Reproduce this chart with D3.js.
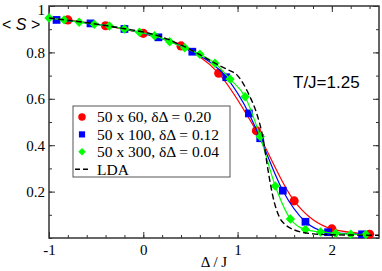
<!DOCTYPE html>
<html>
<head>
<meta charset="utf-8">
<script src="https://cdn.jsdelivr.net/npm/d3@7"></script>
<style>
  body { margin: 0; background: #fff; }
  text { fill: #000; }
</style>
</head>
<body>
<svg id="chart" width="382" height="271"></svg>
<script>
// 50 x 60, dDelta = 0.20 (red circles)
const delta60 = [-0.8, -0.4, 0.0, 0.4, 0.8, 1.2, 1.6, 2.0, 2.4];
const s60 = [0.940, 0.915, 0.882, 0.828, 0.710, 0.462, 0.160, 0.039, 0.016];

// 50 x 100, dDelta = 0.12 (blue squares)
const delta100 = [-0.92, -0.56, -0.20, 0.16, 0.52, 0.88, 1.12, 1.24, 1.48, 1.72, 1.96, 2.32];
const s100 = [0.940, 0.925, 0.901, 0.865, 0.803, 0.693, 0.537, 0.430, 0.204, 0.070, 0.025, 0.016];

// 50 x 300, dDelta = 0.04 (green diamonds)
const delta300 = [-1.0, -0.84, -0.68, -0.52, -0.36, -0.2, -0.04, 0.12, 0.28, 0.44, 0.6, 0.76,
  0.92, 1.08, 1.24, 1.40, 1.56, 1.72, 1.88, 2.04, 2.2, 2.36];
const s300 = [0.948, 0.940, 0.930, 0.921, 0.914, 0.901, 0.887, 0.872, 0.846, 0.820, 0.792, 0.753,
  0.685, 0.609, 0.437, 0.224, 0.082, 0.037, 0.026, 0.020, 0.016, 0.015];

// LDA (dashed, no symbols)
const deltaLDA = [-1.0, -0.6, -0.2, 0.0, 0.2, 0.4, 0.6, 0.8, 0.9, 1.0, 1.13, 1.2, 1.27, 1.32,
  1.375, 1.45, 1.5, 1.6, 1.8, 2.0, 2.5];
const sLDA = [0.948, 0.928, 0.902, 0.888, 0.866, 0.832, 0.790, 0.745, 0.725, 0.700, 0.610, 0.540,
  0.430, 0.300, 0.178, 0.085, 0.060, 0.035, 0.018, 0.014, 0.012];

const xTicks = [-1, 0, 1, 2];
const yTicks = [0.2, 0.4, 0.6, 0.8, 1];

const series = [
  { label: "50 x 60, \u03B4\u0394 = 0.20", color: "#ff0000", symbol: d3.symbolCircle, rot: 0, size: 66, legendSize: 44, xs: delta60, ys: s60 },
  { label: "50 x 100, \u03B4\u0394 = 0.12", color: "#0000ff", symbol: d3.symbolSquare, rot: 0, size: 60, legendSize: 38, xs: delta100, ys: s100 },
  { label: "50 x 300, \u03B4\u0394 = 0.04", color: "#00ff00", symbol: d3.symbolSquare, rot: 45, size: 44, legendSize: 28, xs: delta300, ys: s300 }
];

const svg = d3.select("#chart");
const width = 382, height = 271;
const margin = { top: 6, right: 3, bottom: 33, left: 49 };
const serif = "'Liberation Serif', 'Times New Roman', serif";
const sans = "'Liberation Sans', Arial, sans-serif";

const x = d3.scaleLinear().domain([-1, 2.5]).range([margin.left, width - margin.right]);
const y = d3.scaleLinear().domain([0, 1]).range([height - margin.bottom, margin.top]);

const frameColor = "#333";

// axes: ticks point inward on all four sides
function styleAxis(g) {
  g.select(".domain").remove();
  g.selectAll("line").attr("stroke", frameColor).attr("stroke-width", 1);
  g.selectAll("text").attr("font-family", serif).attr("font-size", 15).attr("fill", "#000");
}

const minorX = d3.range(-1, 2.5001, 0.2).map(v => +v.toFixed(2));
const minorY = d3.range(0, 1.0001, 0.1).map(v => +v.toFixed(2));

svg.append("g")
  .attr("transform", `translate(0,${y(0)})`)
  .call(d3.axisBottom(x).tickValues(minorX).tickSize(-3).tickFormat(""))
  .call(styleAxis);
svg.append("g")
  .attr("transform", `translate(0,${y(0)})`)
  .call(d3.axisBottom(x).tickValues(xTicks).tickSize(-6).tickPadding(6).tickFormat(d => String(d)))
  .call(styleAxis);
svg.append("g")
  .attr("transform", `translate(0,${y(1)})`)
  .call(d3.axisTop(x).tickValues(minorX).tickSize(-3).tickFormat(""))
  .call(styleAxis);
svg.append("g")
  .attr("transform", `translate(0,${y(1)})`)
  .call(d3.axisTop(x).tickValues(xTicks).tickSize(-6).tickFormat(""))
  .call(styleAxis);

svg.append("g")
  .attr("transform", `translate(${x(-1)},0)`)
  .call(d3.axisLeft(y).tickValues(minorY).tickSize(-3).tickFormat(""))
  .call(styleAxis);
const yAxisG = svg.append("g")
  .attr("transform", `translate(${x(-1)},0)`)
  .call(d3.axisLeft(y).tickValues(yTicks).tickSize(-6).tickPadding(4).tickFormat(d => d === 1 ? "1" : d3.format(".1f")(d)))
  .call(styleAxis);
// keep the top label "1" inside the picture
yAxisG.selectAll(".tick").filter(d => d === 1).select("text").attr("dy", "0.55em");

svg.append("g")
  .attr("transform", `translate(${x(2.5)},0)`)
  .call(d3.axisRight(y).tickValues(minorY).tickSize(-3).tickFormat(""))
  .call(styleAxis);
svg.append("g")
  .attr("transform", `translate(${x(2.5)},0)`)
  .call(d3.axisRight(y).tickValues(yTicks).tickSize(-6).tickFormat(""))
  .call(styleAxis);

// frame
svg.append("rect")
  .attr("x", x(-1)).attr("y", y(1))
  .attr("width", x(2.5) - x(-1)).attr("height", y(0) - y(1))
  .attr("fill", "none").attr("stroke", frameColor).attr("stroke-width", 1.5);

const line = d3.line()
  .x(d => x(d[0]))
  .y(d => y(d[1]))
  .curve(d3.curveMonotoneX);

// data series: line then symbols
series.forEach(s => {
  const pts = s.xs.map((v, i) => [v, s.ys[i]]);
  svg.append("path")
    .datum(pts)
    .attr("d", line)
    .attr("fill", "none")
    .attr("stroke", s.color)
    .attr("stroke-width", 1.2);
  svg.append("g").selectAll("path")
    .data(pts)
    .enter()
    .append("path")
    .attr("transform", d => `translate(${x(d[0])},${y(d[1])}) rotate(${s.rot})`)
    .attr("d", d3.symbol().type(s.symbol).size(s.size))
    .attr("fill", s.color);
});

// LDA
svg.append("path")
  .datum(deltaLDA.map((v, i) => [v, sLDA[i]]))
  .attr("d", line)
  .attr("fill", "none")
  .attr("stroke", "#000")
  .attr("stroke-width", 1.4)
  .attr("stroke-dasharray", "6,3");

// axis labels
svg.append("text")
  .attr("x", (x(-1) + x(2.5)) / 2)
  .attr("y", 267)
  .attr("text-anchor", "middle")
  .attr("font-family", serif)
  .attr("font-size", 15)
  .text("\u0394 / J");

const yLab = svg.append("text")
  .attr("x", 2)
  .attr("y", 30)
  .attr("font-family", sans)
  .attr("font-size", 16);
yLab.append("tspan").text("< ");
yLab.append("tspan").attr("font-style", "italic").text("S");
yLab.append("tspan").text(" >");

svg.append("text")
  .attr("x", 293)
  .attr("y", 88)
  .attr("font-family", sans)
  .attr("font-size", 17)
  .text("T/J=1.25");

// legend
const legend = svg.append("g").attr("transform", "translate(73,106)");
legend.append("rect")
  .attr("width", 157).attr("height", 71)
  .attr("fill", "#fff").attr("stroke", "#555").attr("stroke-width", 1);

const rowH = 17.4;
const items = legend.selectAll("g.item")
  .data(series)
  .enter()
  .append("g")
  .attr("class", "item")
  .attr("transform", (d, i) => `translate(0,${11 + i * rowH})`);

items.append("path")
  .attr("transform", d => `translate(9,0) rotate(${d.rot})`)
  .attr("d", d => d3.symbol().type(d.symbol).size(d.legendSize)())
  .attr("fill", d => d.color);

items.append("text")
  .attr("x", 24)
  .attr("y", 0)
  .attr("dy", "0.35em")
  .attr("font-family", serif)
  .attr("font-size", 15.5)
  .text(d => d.label);

const ldaRow = legend.append("g").attr("transform", `translate(0,${11 + 3 * rowH})`);
ldaRow.append("line")
  .attr("x1", 2).attr("x2", 17)
  .attr("stroke", "#000").attr("stroke-width", 1.4)
  .attr("stroke-dasharray", "5,3");
ldaRow.append("text")
  .attr("x", 24)
  .attr("dy", "0.35em")
  .attr("font-family", serif)
  .attr("font-size", 15.5)
  .text("LDA");
</script>
</body>
</html>
